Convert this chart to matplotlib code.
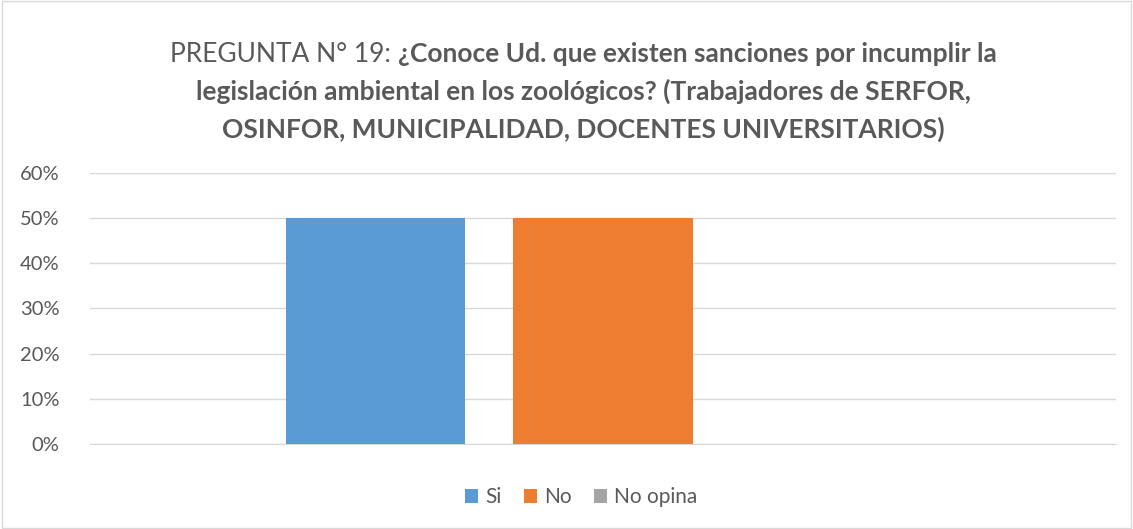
import matplotlib.pyplot as plt
from matplotlib.patches import Rectangle
from matplotlib.ticker import PercentFormatter

plt.rcParams['font.family'] = ['Lato', 'DejaVu Sans']

series = ["Si", "No", "No opina"]
values = [0.50, 0.50, 0.0]
colors = ["#5b9bd5", "#ed7d31", "#a5a5a5"]
yticks = [0, 0.1, 0.2, 0.3, 0.4, 0.5, 0.6]

txt_color = "#595959"

fig = plt.figure(figsize=(11.33, 5.29), dpi=100)
ax = fig.add_axes([0.0794, 0.1607, 0.9056, 0.5123])

step = 0.2217
width = 0.1754
for i, (name, v, c) in enumerate(zip(series, values, colors)):
    ax.bar((i - 1) * step, v, width=width, color=c, label=name, zorder=3)

ax.set_xlim(-0.5, 0.5)
ax.set_ylim(0, 0.6)
ax.set_yticks(yticks)
ax.yaxis.set_major_formatter(PercentFormatter(1.0, decimals=0))
ax.set_xticks([])
ax.grid(axis='y', color="#d9d9d9", linewidth=1, zorder=0)
for s in ax.spines.values():
    s.set_visible(False)
ax.spines['bottom'].set_visible(True)
ax.spines['bottom'].set_color("#d9d9d9")
ax.tick_params(axis='y', length=0, pad=22, labelsize=14.5, labelcolor=txt_color)

# title: first line has a normal and a bold part
fig.canvas.draw()
renderer = fig.canvas.get_renderer()
fs = 19
y0 = 1 - 62 / 529
part1 = "PREGUNTA N° 19: "
part2 = "¿Conoce Ud. que existen sanciones por incumplir la"
t1 = fig.text(0, y0, part1, fontsize=fs, color=txt_color, va='baseline')
t2 = fig.text(0, y0, part2, fontsize=fs, color=txt_color, fontweight='bold', va='baseline')
w1 = t1.get_window_extent(renderer).width
w2 = t2.get_window_extent(renderer).width
W = fig.bbox.width
x0 = (W * 0.515 - (w1 + w2) / 2) / W
t1.set_x(x0)
t2.set_x(x0 + w1 / W)
fig.text(0.515, y0 - 38 / 529, "legislación ambiental en los zoológicos? (Trabajadores de SERFOR,",
         fontsize=fs, color=txt_color, fontweight='bold', ha='center', va='baseline')
fig.text(0.515, y0 - 76 / 529, "OSINFOR, MUNICIPALIDAD, DOCENTES UNIVERSITARIOS)",
         fontsize=fs, color=txt_color, fontweight='bold', ha='center', va='baseline')

leg = fig.legend(loc='center', bbox_to_anchor=(0.513, 0.06), ncol=3, frameon=False,
                 fontsize=15, handlelength=0.6, handleheight=0.6, handletextpad=0.35,
                 columnspacing=1.1)
for t in leg.get_texts():
    t.set_color(txt_color)

fig.patches.append(Rectangle((0.002, 0.002), 0.996, 0.996, transform=fig.transFigure,
                             fill=False, edgecolor="#d9d9d9", linewidth=1))

fig.savefig("out.png", dpi=100)
